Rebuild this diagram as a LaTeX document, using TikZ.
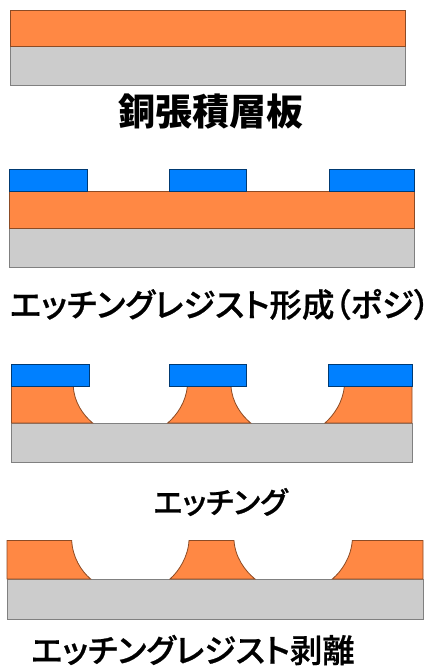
\documentclass[tikz,border=0pt]{standalone}
\usepackage{fontspec}
\setmainfont{Noto Sans CJK JP}[RawFeature=+palt]
\newfontfamily\medfont{Noto Sans CJK JP Medium}[RawFeature={+palt;embolden=0.7}]
\definecolor{cuorange}{HTML}{FF8844}
\definecolor{resblue}{HTML}{0080FF}
\definecolor{basegray}{HTML}{CCCCCC}
\tikzstyle{cu}=[fill=cuorange, draw=black!45!cuorange, line width=0.8pt]
\tikzstyle{base}=[fill=basegray, draw=gray, line width=1pt]
\tikzstyle{res}=[fill=resblue, draw=black!55!resblue, line width=0.8pt]
\tikzstyle{lbl}=[inner sep=0pt, font=\bfseries]
\tikzstyle{lblm}=[inner sep=0pt, font=\medfont]

\begin{document}
\begin{tikzpicture}[x=1pt, y=-1pt]
    \useasboundingbox (0, 0) rectangle (428, 669);

    % laminate
    \draw [base] (10, 46.5) rectangle (405, 85);
    \draw [cu] (10, 10) rectangle (405, 46.5);
    \node [lbl] (t0) at (211, 112) {\fontsize{37}{37}\selectfont 銅張積層板};

    % resist
    \draw [base] (9, 228.5) rectangle (414, 267.5);
    \draw [cu] (9, 191) rectangle (414, 228.5);
    \draw [res] (9, 169) rectangle (87, 191);
    \draw [res] (169, 169) rectangle (246, 191);
    \draw [res] (329, 169) rectangle (414, 191);
    \node [lblm] (t1) at (220, 304.5) {\fontsize{32.5}{32.5}\selectfont エッチングレジスト形成（ポジ）};

    % etching
    \draw [base] (11.5, 423) rectangle (412, 462.5);
    \draw [cu] (11.5, 386.3) -- (73.3, 386.3) .. controls (74, 402) and (83, 415) .. (92.7, 423) -- (11.5, 423) -- cycle;
    \draw [cu] (187.3, 386.3) -- (231, 386.3) .. controls (232, 402) and (241, 415) .. (250.7, 423) -- (167.7, 423) .. controls (177, 415) and (186, 402) .. (187.3, 386.3) -- cycle;
    \draw [cu] (344.3, 386.3) -- (412, 386.3) -- (412, 423) -- (325, 423) .. controls (334, 415) and (343, 402) .. (344.3, 386.3) -- cycle;
    \draw [res] (11.5, 364.7) rectangle (89, 386.3);
    \draw [res] (169.5, 364.7) rectangle (246.5, 386.3);
    \draw [res] (328.5, 364.7) rectangle (412, 386.3);
    \node [lblm] (t2) at (220.5, 502) {\fontsize{30}{30}\selectfont エッチング};

    % stripped
    \draw [base] (7, 579) rectangle (423, 619.5);
    \draw [cu] (7, 540.5) -- (71.7, 540.5) .. controls (72.5, 557) and (81, 571) .. (90.7, 579) -- (7, 579) -- cycle;
    \draw [cu] (189, 540.5) -- (234, 540.5) .. controls (235, 557) and (245, 571) .. (255, 579) -- (170, 579) .. controls (179, 571) and (188, 557) .. (189, 540.5) -- cycle;
    \draw [cu] (352.3, 540.5) -- (423, 540.5) -- (423, 579) -- (332.3, 579) .. controls (342, 571) and (351, 557) .. (352.3, 540.5) -- cycle;
    \node [lblm] (t3) at (193, 650) {\fontsize{32.4}{32.4}\selectfont エッチングレジスト剥離};
\end{tikzpicture}
\end{document}
